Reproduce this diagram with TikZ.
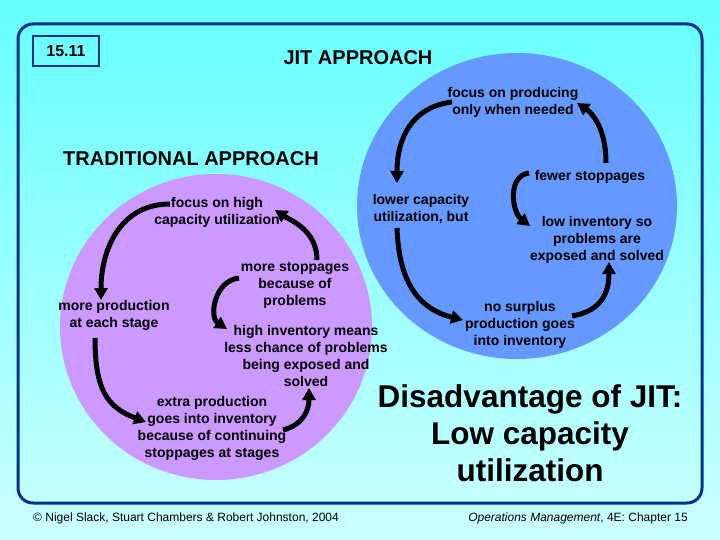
\documentclass[tikz,border=0pt]{standalone}
\usepackage{fontspec}
\setmainfont{Liberation Sans}
\usepackage{tikz}
\usetikzlibrary{arrows.meta, calc}

\definecolor{navy}{RGB}{0,51,136}
\definecolor{skytop}{RGB}{102,255,255}
\definecolor{skybot}{RGB}{204,255,255}
\definecolor{lilac}{RGB}{204,153,255}
\definecolor{jitblue}{RGB}{102,153,255}

\tikzset{
  lbl/.style={font=\bfseries\fontsize{14}{17}\selectfont, align=center, inner sep=0pt},
  ttl/.style={font=\bfseries\fontsize{20}{24}\selectfont, inner sep=0pt},
  cyc/.style={line width=5pt, ->},
  foot/.style={font=\fontsize{12}{14}\selectfont, inner sep=0pt},
}

\begin{document}
\begin{tikzpicture}[>={Triangle[width=13pt,length=12pt]}, x=1pt, y=-1pt]
    % 1. Nền và khung
    \useasboundingbox (0,0) rectangle (720,540);
    \shade[top color=skytop, bottom color=skybot] (0,0) rectangle (720,540);
    \draw[navy, line width=3pt, rounded corners=15pt] (18,24) rectangle (702,503);
    \node[draw=navy, line width=1.5pt, minimum width=66pt, minimum height=30pt,
          font=\bfseries\fontsize{16}{18}\selectfont] (num) at (66,51) {15.11};

    % 2. Hai vòng tròn
    \fill[lilac] (216,327) ellipse [x radius=156pt, y radius=153pt];
    \fill[jitblue] (517,206) ellipse [x radius=160pt, y radius=153pt];

    % 3. Tiêu đề
    \node[ttl] (jit) at (358,58) {JIT APPROACH};
    \node[ttl] (trd) at (191,159) {TRADITIONAL APPROACH};

    % 4. Vòng JIT
    \node[lbl] (fpn) at (513,102) {focus on producing\\only when needed};
    \node[lbl] (few) at (590,177) {fewer stoppages};
    \node[lbl] (lcu) at (421,209) {lower capacity\\utilization, but};
    \node[lbl] (lin) at (597,240) {low inventory so\\problems are\\exposed and solved};
    \node[lbl] (nsp) at (520,325) {no surplus\\production goes\\into inventory};

    \draw[cyc] ($(fpn)+(-61,0)$) .. controls +(-40,5) and +(0,-45) .. ($(lcu)+(-24,-26)$);
    \draw[cyc] ($(lcu)+(-24,19)$) .. controls +(2,60) and +(-40,-10) .. ($(nsp)+(-57,-5)$);
    \draw[cyc] ($(nsp)+(52,-9)$) .. controls +(30,-5) and +(0,30) .. ($(lin)+(12,22)$);
    \draw[cyc] ($(few)+(-61,-4)$) .. controls +(-22,3) and +(-18,-14) .. ($(lin)+(-67,-14)$);
    \draw[cyc] ($(few)+(16,-14)$) .. controls +(0,-35) and +(15,10) .. ($(fpn)+(64,1)$);

    % 5. Vòng truyền thống
    \node[lbl] (fhc) at (217,212) {focus on high\\capacity utilization};
    \node[lbl] (msb) at (295,285) {more stoppages\\because of\\problems};
    \node[lbl] (mpe) at (114,315) {more production\\at each stage};
    \node[lbl] (hil) at (306,356) {high inventory means\\less chance of problems\\being exposed and\\solved};
    \node[lbl] (epi) at (212,428) {extra production\\goes into inventory\\because of continuing\\stoppages at stages};

    \draw[cyc] ($(fhc)+(-47,-8)$) .. controls +(-50,0) and +(0,-50) .. ($(mpe)+(-13,-15)$);
    \draw[cyc] ($(mpe)+(-19,23)$) .. controls +(0,50) and +(-40,-15) .. ($(epi)+(-66,-6)$);
    \draw[cyc] ($(epi)+(71,2)$) .. controls +(20,-5) and +(0,22) .. ($(hil)+(3,32)$);
    \draw[cyc] ($(msb)+(-56,-7)$) .. controls +(-25,3) and +(-18,-12) .. ($(hil)+(-79,-27)$);
    \draw[cyc] ($(msb)+(22,-25)$) .. controls +(0,-30) and +(15,10) .. ($(fhc)+(58,-2)$);

    % 6. Kết luận và chân trang
    \node[font=\bfseries\fontsize{31.5}{37}\selectfont, align=center] (dis) at (530,433)
        {Disadvantage of JIT:\\Low capacity\\utilization};
    \node[foot] (cpy) at (186,518) {© Nigel Slack, Stuart Chambers \& Robert Johnston, 2004};
    \node[foot] (omc) at (578,518) {\textit{Operations Management}, 4E: Chapter 15};
\end{tikzpicture}
\end{document}
